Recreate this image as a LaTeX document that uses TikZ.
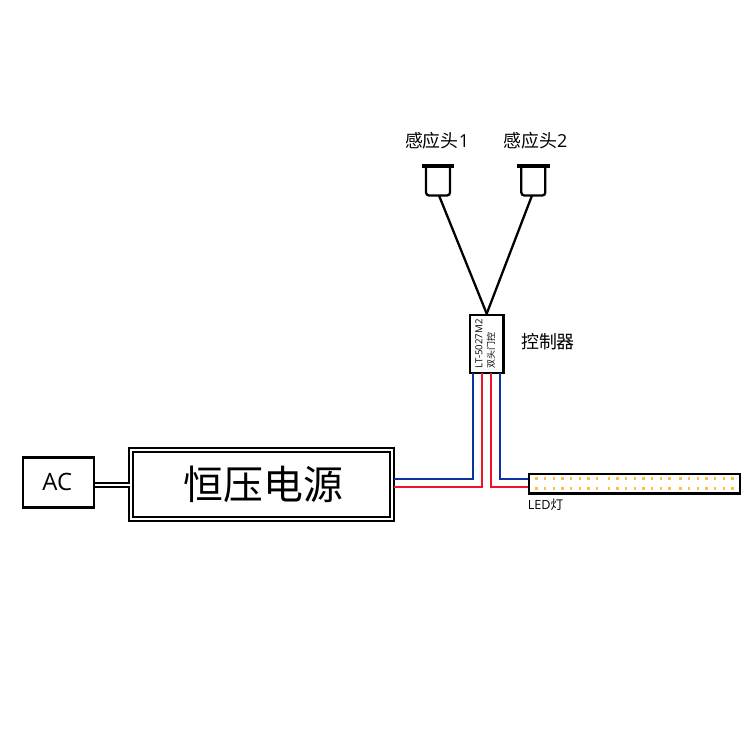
\documentclass[tikz,border=0pt]{standalone}
\usepackage{fontspec}
\setmainfont{Open Sans}
\newfontfamily\cjk{Noto Sans CJK SC}
\newcommand{\pxl}{0.02cm}
\tikzset{
	box/.style={draw, line width=1.25pt, inner sep=0pt},
	doublebox/.style={draw, line width=1.05pt, inner sep=0pt, double, double distance=1.1pt},
	bluewire/.style={draw={rgb,255:red,10;green,50;blue,160}, line width=1.3pt},
	redwire/.style={draw={rgb,255:red,235;green,20;blue,40}, line width=1.3pt},
	headline/.style={line width=1.3pt},
	label/.style={inner sep=0pt}
}
\definecolor{ledcolor}{RGB}{252,190,70}
\begin{document}
\begin{tikzpicture}[x=\pxl, y=-\pxl]
	\useasboundingbox (0,0) rectangle (750,750);

	%draw the power side
	\node[box, minimum width=71.5*\pxl, minimum height=50*\pxl] (ac) at (58.4,482.4) {\fontsize{13.6}{16}\selectfont\kern-1.2pt AC};
	\node[doublebox, minimum width=261*\pxl, minimum height=69*\pxl] (psu) at (261.4,484.8) {\cjk\fontsize{22.7}{26}\selectfont\kern2pt 恒压电源};
	\draw[line width=1.05pt, double, double distance=1.1pt] (ac.east |- 0,485) -- (psu.west |- 0,485);

	%draw controller and its labels
	\node[box, minimum width=33.5*\pxl, minimum height=58*\pxl] (ctrl) at (486.7,343.8) {};
	\node[label, rotate=90, anchor=west] (model) at (479,369) {\fontsize{5.5}{6}\selectfont LT-5027M2};
	\node[label, rotate=90, anchor=west] (doorctrl) at (491,369) {\cjk\fontsize{5.1}{6}\selectfont 双头门控};
	\node[label] (ctrltext) at (548,342) {\cjk\fontsize{10.2}{12}\selectfont 控制器};

	%draw LED strip with its two rows of dots
	\node[box, minimum width=211.5*\pxl, minimum height=19.7*\pxl] (led) at (634.4,483.7) {};
	\foreach \s/\n in {536.3/7,608.7/7,680.3/6}
		\foreach \i in {0,...,\n}
			\foreach \y in {478.2,488.7}
				\fill[ledcolor] (\s+8.7*\i-1.2,\y-1.6) rectangle (\s+8.7*\i+1.2,\y+1.6);
	\node[label, anchor=north west] (ledtext) at (527.5,498.5) {\fontsize{7.2}{8}\selectfont LED{\cjk 灯}};

	%ends of the four wires
	\coordinate (psublue) at (394,479);
	\coordinate (psured) at (394,487.3);
	\coordinate (ledblue) at (528,479);
	\coordinate (ledred) at (528,487.3);
	\coordinate (ctrlblueA) at (473.3,373.3);
	\coordinate (ctrlredA) at (482,373.3);
	\coordinate (ctrlredB) at (491.3,373.3);
	\coordinate (ctrlblueB) at (500.3,373.3);

	%draw wires
	\draw[bluewire] (psublue) -| (ctrlblueA);
	\draw[redwire] (psured) -| (ctrlredA);
	\draw[redwire] (ctrlredB) |- (ledred);
	\draw[bluewire] (ctrlblueB) |- (ledblue);

	%draw the two sensors
	\foreach \name/\cx/\lx/\tx/\txt in {headA/438/439/437/1,headB/533.3/532/535.3/2}{
		\draw[headline, rounded corners=3*\pxl] (\cx-12,166) -- (\cx-12,195.5) -- (\cx+12,195.5) -- (\cx+12,166);
		\fill (\cx-16.3,164.3) rectangle (\cx+16.3,168.3);
		\coordinate (\name) at (\lx,195.5);
		\node[label] (\name text) at (\tx,141) {\fontsize{10.2}{12}\selectfont{\cjk 感应头}\txt};
		\draw[headline] (\name) -- (ctrl.north);
	}
\end{tikzpicture}
\end{document}
